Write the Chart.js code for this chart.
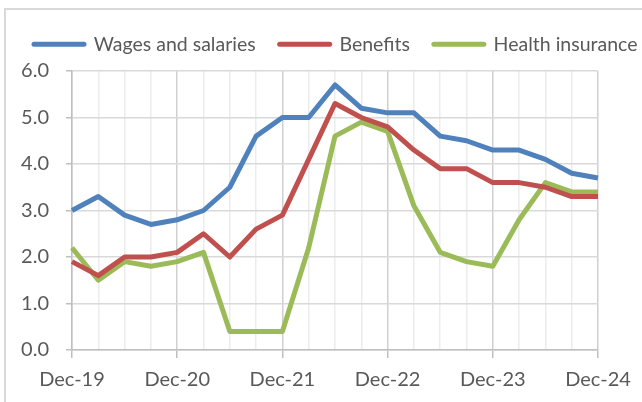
<!DOCTYPE html>
<html>
<head>
<meta charset="utf-8">
<script src="https://cdn.jsdelivr.net/npm/chart.js@4.4.1/dist/chart.umd.min.js"></script>
<style>
    html, body { margin: 0; padding: 0; background: #fff; overflow: hidden; }
    #wrap { position: relative; width: 642px; height: 402px; overflow: hidden; }
    #frame {
        position: absolute; left: 4px; top: 8px; width: 700px; height: 500px;
        border: 2px solid #d9d9d9; box-sizing: border-box;
    }
    .title {
        position: absolute; top: -27px; white-space: nowrap;
        font: bold 26px/26px "Liberation Serif", "DejaVu Serif", serif; color: #000;
    }
    #chart { position: absolute; left: 0; top: 0; }
</style>
</head>
<body>
<div id="wrap">
    <div id="frame"></div>
    <div class="title" style="right: 553px;">cent,</div>
    <div class="title" style="left: 96px;">private industry workers</div>
    <canvas id="chart" width="680" height="402"></canvas>
</div>
<script>
// Quarterly 12-month percent change, Dec-19 .. Dec-24
const quarters = [
    'Dec-19', 'Mar-20', 'Jun-20', 'Sep-20', 'Dec-20', 'Mar-21', 'Jun-21', 'Sep-21',
    'Dec-21', 'Mar-22', 'Jun-22', 'Sep-22', 'Dec-22', 'Mar-23', 'Jun-23', 'Sep-23',
    'Dec-23', 'Mar-24', 'Jun-24', 'Sep-24', 'Dec-24'
];
const wages = [3.0, 3.3, 2.9, 2.7, 2.8, 3.0, 3.5, 4.6, 5.0, 5.0, 5.7, 5.2, 5.1, 5.1, 4.6, 4.5, 4.3, 4.3, 4.1, 3.8, 3.7];
const benefits = [1.9, 1.6, 2.0, 2.0, 2.1, 2.5, 2.0, 2.6, 2.9, 4.1, 5.3, 5.0, 4.8, 4.3, 3.9, 3.9, 3.6, 3.6, 3.5, 3.3, 3.3];
const health = [2.2, 1.5, 1.9, 1.8, 1.9, 2.1, 0.4, 0.4, 0.4, 2.2, 4.6, 4.9, 4.7, 3.1, 2.1, 1.9, 1.8, 2.8, 3.6, 3.4, 3.4];
const seriesNames = ['Wages and salaries', 'Benefits', 'Health insurance'];
const seriesColors = ['#4f81bd', '#c0504d', '#9bbb59'];

const textColor = '#595959';
const fontFamily = 'Lato, "Open Sans", sans-serif';

function makeDataset(label, data, color) {
    return {
        label: label,
        data: data,
        borderColor: color,
        backgroundColor: color,
        borderWidth: 5,
        pointRadius: 0,
        tension: 0,
        borderJoinStyle: 'round',
        pointStyle: 'line'
    };
}

// nudge the legend up a little, leaving more room above the plot
const legendNudge = {
    id: 'legendNudge',
    afterLayout(c) {
        c.legend.top -= 7;
        c.legend.bottom -= 7;
    }
};

// canvas is a bit wider than the visible 642px so the legend fits on one row
const chart = new Chart(document.getElementById('chart'), {
    type: 'line',
    data: {
        labels: quarters,
        datasets: [
            makeDataset(seriesNames[0], wages, seriesColors[0]),
            makeDataset(seriesNames[1], benefits, seriesColors[1]),
            makeDataset(seriesNames[2], health, seriesColors[2])
        ]
    },
    options: {
        responsive: false,
        animation: false,
        layout: { padding: { top: 13, left: 10, right: 0, bottom: 0 } },
        plugins: {
            tooltip: { enabled: false },
            legend: {
                display: true,
                position: 'top',
                align: 'start',
                labels: {
                    usePointStyle: true,
                    pointStyleWidth: 50,
                    boxHeight: 5,
                    padding: 24,
                    color: textColor,
                    font: { family: fontFamily, size: 19.5 },
                    generateLabels: (c) => {
                        const items = Chart.defaults.plugins.legend.labels.generateLabels(c);
                        items.forEach(it => { it.lineCap = 'round'; it.lineWidth = 5; });
                        return items;
                    }
                }
            }
        },
        scales: {
            x: {
                grid: {
                    color: (ctx) => ctx.index % 4 === 0 ? '#d0d0d0' : '#ececec',
                    tickColor: (ctx) => ctx.index % 4 === 0 ? '#bfbfbf' : 'rgba(0,0,0,0)',
                    tickLength: 8,
                    lineWidth: 1.5
                },
                border: { color: '#bfbfbf', width: 1.5 },
                ticks: {
                    autoSkip: false,
                    maxRotation: 0,
                    padding: 10,
                    color: textColor,
                    font: { family: fontFamily, size: 20 },
                    callback: function (value, index) {
                        return index % 4 === 0 ? this.getLabelForValue(value) : '';
                    }
                },
                afterFit: (scale) => { scale.height = 52; scale.paddingRight = 82; }
            },
            y: {
                min: 0,
                max: 6,
                grid: {
                    color: (ctx) => ctx.tick && Number.isInteger(ctx.tick.value) ? '#d9d9d9' : 'rgba(0,0,0,0)',
                    tickColor: '#bfbfbf',
                    tickLength: 6,
                    lineWidth: 1.5
                },
                border: { color: '#bfbfbf', width: 1.5 },
                ticks: {
                    stepSize: 0.5,
                    padding: 17,
                    color: textColor,
                    font: { family: fontFamily, size: 20 },
                    callback: (v) => Number.isInteger(v) ? v.toFixed(1) : ''
                },
                afterFit: (scale) => { scale.width = 62; scale.paddingTop = 71; }
            }
        }
    },
    plugins: [legendNudge]
});
</script>
</body>
</html>
